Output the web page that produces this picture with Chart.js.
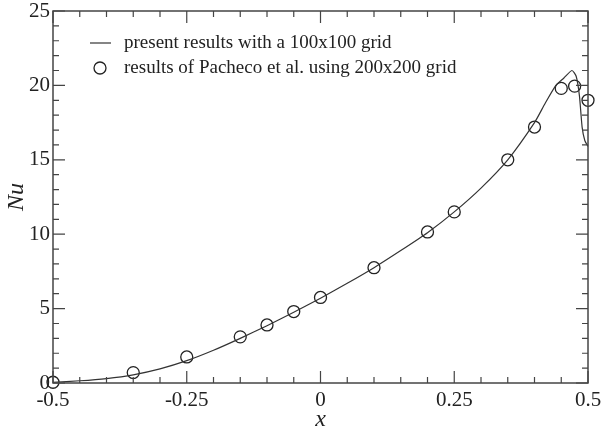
<!DOCTYPE html>
<html>
<head>
<meta charset="utf-8">
<script src="https://cdn.jsdelivr.net/npm/chart.js@4.4.1/dist/chart.umd.min.js"></script>
<style>
  html, body { margin: 0; padding: 0; background: #fff; }
  #wrap { width: 603px; height: 428px; }
</style>
</head>
<body>
<div id="wrap"><canvas id="nuChart"></canvas></div>
<script>
// present results, 100x100 grid (line)
const xLine = [-0.5, -0.45, -0.4, -0.35, -0.3, -0.25, -0.2, -0.15, -0.1, -0.05, 0, 0.05, 0.1, 0.15, 0.2, 0.25, 0.3, 0.35, 0.4, 0.42, 0.44, 0.455, 0.47, 0.478, 0.484, 0.489, 0.494, 0.5];
const yLine = [0.05, 0.15, 0.3, 0.55, 0.95, 1.5, 2.2, 3.0, 3.85, 4.75, 5.7, 6.7, 7.75, 8.9, 10.1, 11.5, 13.1, 15.0, 17.5, 18.8, 20.0, 20.5, 21.0, 20.6, 19.3, 17.2, 16.3, 15.9];

// Pacheco et al., 200x200 grid (circles)
const xPacheco = [-0.5, -0.35, -0.25, -0.15, -0.1, -0.05, 0, 0.1, 0.2, 0.25, 0.35, 0.4, 0.45, 0.475, 0.5];
const yPacheco = [0.05, 0.7, 1.75, 3.1, 3.9, 4.8, 5.75, 7.75, 10.15, 11.5, 15.0, 17.2, 19.8, 19.95, 19.0];

const xTicks = [-0.5, -0.25, 0, 0.25, 0.5];
const yTicks = [0, 5, 10, 15, 20, 25];
const legendLabels = ['present results with a 100x100 grid', 'results of Pacheco et al. using 200x200 grid'];

const serif = '"Liberation Serif", "DejaVu Serif", serif';
const ink = '#222';

// frame + inward ticks on all four sides
const frameTicks = {
    id: 'frameTicks',
    afterDatasetsDraw(chart) {
        const { ctx, chartArea: a, scales: { x, y } } = chart;
        ctx.save();
        ctx.strokeStyle = '#444';
        ctx.lineWidth = 1.5;
        ctx.strokeRect(a.left, a.top, a.right - a.left, a.bottom - a.top);
        ctx.lineWidth = 1.2;
        ctx.beginPath();
        for (let i = 0; i <= 20; i++) {
            const v = -0.5 + i * 0.05;
            const px = x.getPixelForValue(v);
            const len = i % 5 === 0 ? 12 : 6;
            ctx.moveTo(px, a.bottom); ctx.lineTo(px, a.bottom - len);
            ctx.moveTo(px, a.top); ctx.lineTo(px, a.top + len);
        }
        for (let i = 0; i <= 25; i++) {
            const py = y.getPixelForValue(i);
            const len = i % 5 === 0 ? 12 : 6;
            ctx.moveTo(a.left, py); ctx.lineTo(a.left + len, py);
            ctx.moveTo(a.right, py); ctx.lineTo(a.right - len, py);
        }
        ctx.stroke();
        ctx.restore();
    }
};

// legend inside the plot, upper left
const insideLegend = {
    id: 'insideLegend',
    afterDraw(chart) {
        const { ctx } = chart;
        const ds = chart.data.datasets;
        ctx.save();
        ctx.font = '19px ' + serif;
        ctx.fillStyle = ink;
        ctx.textBaseline = 'middle';
        // line sample
        ctx.strokeStyle = ds[0].borderColor;
        ctx.lineWidth = ds[0].borderWidth;
        ctx.beginPath();
        ctx.moveTo(90, 43); ctx.lineTo(111, 43);
        ctx.stroke();
        ctx.fillText(legendLabels[0], 124, 43);
        // circle sample
        ctx.strokeStyle = ds[1].pointBorderColor;
        ctx.lineWidth = ds[1].pointBorderWidth;
        ctx.beginPath();
        ctx.arc(100, 68, ds[1].pointRadius, 0, Math.PI * 2);
        ctx.stroke();
        ctx.fillText(legendLabels[1], 124, 68);
        ctx.restore();
    }
};

const lineData = xLine.map((v, i) => ({ x: v, y: yLine[i] }));
const circleData = xPacheco.map((v, i) => ({ x: v, y: yPacheco[i] }));

new Chart(document.getElementById('nuChart').getContext('2d'), {
    type: 'scatter',
    data: {
        datasets: [{
            label: legendLabels[0],
            data: lineData,
            showLine: true,
            borderColor: '#333',
            borderWidth: 1.2,
            pointRadius: 0,
            tension: 0.2,
            clip: false
        }, {
            label: legendLabels[1],
            data: circleData,
            showLine: false,
            pointRadius: 6,
            pointBorderWidth: 1.3,
            pointBorderColor: '#222',
            pointBackgroundColor: 'rgba(0,0,0,0)',
            clip: false
        }]
    },
    options: {
        responsive: true,
        maintainAspectRatio: false,
        animation: false,
        layout: { padding: { top: 11, right: 15, left: 0, bottom: 0 } },
        plugins: {
            legend: { display: false },
            tooltip: { enabled: false }
        },
        scales: {
            x: {
                type: 'linear',
                min: -0.5,
                max: 0.5,
                afterBuildTicks: s => { s.ticks = xTicks.map(v => ({ value: v })); },
                afterFit: s => { s.height = 45; s.paddingLeft = 0; s.paddingRight = 0; },
                grid: { display: false, drawTicks: false },
                border: { display: false },
                ticks: {
                    padding: 5,
                    color: ink,
                    font: { family: serif, size: 21 },
                    callback: v => String(v)
                },
                title: {
                    display: true,
                    text: 'x',
                    color: ink,
                    padding: { top: 0, bottom: -6 },
                    font: { family: serif, size: 24, style: 'italic' }
                }
            },
            y: {
                type: 'linear',
                min: 0,
                max: 25,
                afterBuildTicks: s => { s.ticks = yTicks.map(v => ({ value: v })); },
                afterFit: s => { s.width = 53; s.paddingTop = 0; s.paddingBottom = 0; },
                grid: { display: false, drawTicks: false },
                border: { display: false },
                ticks: {
                    padding: 3,
                    color: ink,
                    font: { family: serif, size: 21 },
                    callback: v => String(v)
                },
                title: {
                    display: true,
                    text: 'Nu',
                    color: ink,
                    padding: { top: 2, bottom: 0 },
                    font: { family: serif, size: 24, style: 'italic' }
                }
            }
        }
    },
    plugins: [frameTicks, insideLegend]
});
</script>
</body>
</html>
